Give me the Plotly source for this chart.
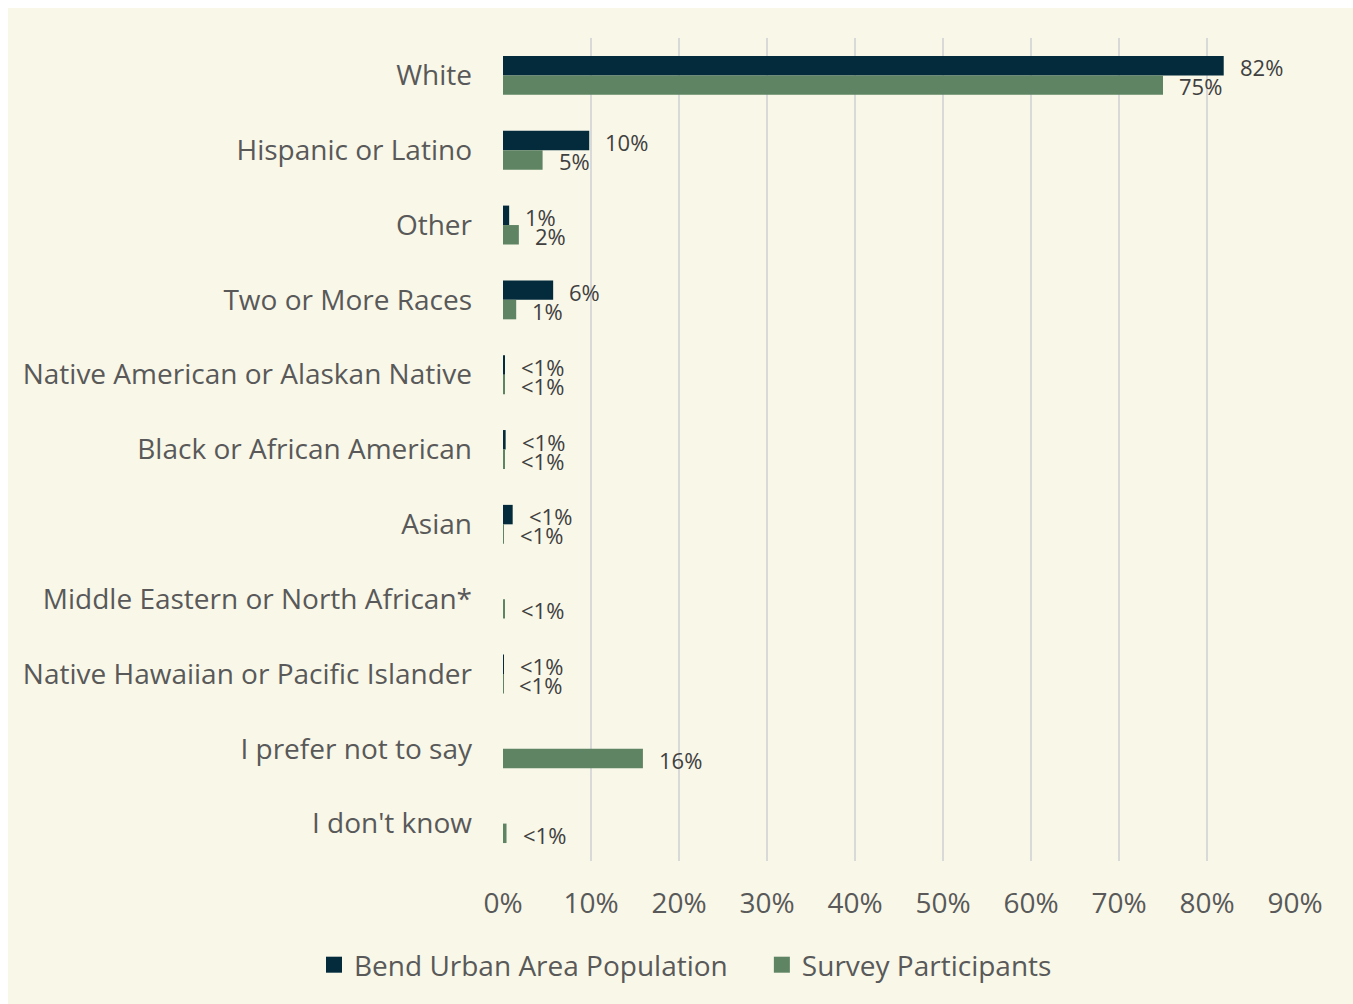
import plotly.graph_objects as go

categories = ["White", "Hispanic or Latino", "Other", "Two or More Races",
              "Native American or Alaskan Native", "Black or African American",
              "Asian", "Middle Eastern or North African*",
              "Native Hawaiian or Pacific Islander", "I prefer not to say",
              "I don't know"]
population = [81.9, 9.8, 0.7, 5.7, 0.2, 0.3, 1.1, 0.0, 0.1, 0.0, 0.0]
participants = [75.0, 4.5, 1.8, 1.5, 0.2, 0.2, 0.1, 0.2, 0.05, 15.9, 0.4]
population_labels = ["82%", "10%", "1%", "6%", "<1%", "<1%", "<1%", "", "<1%", "", ""]
participant_labels = ["75%", "5%", "2%", "1%", "<1%", "<1%", "<1%", "<1%", "<1%", "16%", "<1%"]
x_ticks = [0, 10, 20, 30, 40, 50, 60, 70, 80, 90]
x_tick_labels = [f"{t}%" for t in x_ticks]
series_names = ["Bend Urban Area Population", "Survey Participants"]

DARK = "#032B3C"
GREEN = "#5E8463"
CREAM = "#F8F7E8"
TEXT = "#595959"
LABEL = "#404040"
FONT = "Open Sans"

W, H = 1353, 1004
L, R, T, B = 503, 58, 38, 143
PW, PH = W - L - R, H - T - B
BORDER = 8
NBSP = "\u00a0"

fig = go.Figure()
fig.add_trace(go.Bar(y=categories, x=population, orientation="h", name=series_names[0],
                     marker=dict(color=DARK, line=dict(width=0)), showlegend=False))
fig.add_trace(go.Bar(y=categories, x=participants, orientation="h", name=series_names[1],
                     marker=dict(color=GREEN, line=dict(width=0)), showlegend=False))
# legend entries with larger square swatches
legend_names = [series_names[0] + NBSP * 4, series_names[1]]
for name, col in zip(legend_names, [DARK, GREEN]):
    fig.add_trace(go.Scatter(x=[None], y=[None], mode="markers", name=name,
                             marker=dict(symbol="square", size=18, color=col),
                             showlegend=True, hoverinfo="skip"))

annotations = []
for cat, v, lab in zip(categories, population, population_labels):
    if lab:
        annotations.append(dict(x=v, y=cat, text=lab, showarrow=False, xanchor="left",
                                yanchor="middle", xshift=14, yshift=8,
                                font=dict(family=FONT, size=22, color=LABEL)))
for cat, v, lab in zip(categories, participants, participant_labels):
    if lab:
        annotations.append(dict(x=v, y=cat, text=lab, showarrow=False, xanchor="left",
                                yanchor="middle", xshift=14, yshift=-11,
                                font=dict(family=FONT, size=22, color=LABEL)))

fig.update_layout(
    width=W, height=H,
    margin=dict(l=L, r=R, t=T, b=B, pad=0),
    paper_bgcolor="white",
    plot_bgcolor="rgba(0,0,0,0)",
    barmode="group",
    bargap=0.48,
    bargroupgap=0,
    font=dict(family=FONT, color=TEXT),
    showlegend=True,
    legend=dict(orientation="h", xref="container", yref="container",
                x=314 / W, y=1 - 965 / H, xanchor="left", yanchor="middle",
                font=dict(family=FONT, size=28, color=TEXT),
                tracegroupgap=0, bgcolor="rgba(0,0,0,0)"),
    annotations=annotations,
    shapes=[dict(type="rect", xref="paper", yref="paper", layer="below",
                 x0=(BORDER - L) / PW, x1=(W - L) / PW,
                 y0=(T + PH - H) / PH, y1=(T + PH - BORDER) / PH,
                 fillcolor=CREAM, line=dict(width=0))],
    xaxis=dict(range=[0, 90], tickvals=x_ticks, ticktext=x_tick_labels,
               showgrid=True, gridcolor="#D9D9D9", gridwidth=2,
               zeroline=False, showline=False, ticks="",
               ticklabelstandoff=23,
               tickfont=dict(family=FONT, size=28, color=TEXT), fixedrange=True),
    yaxis=dict(autorange="reversed", showgrid=False, zeroline=False, showline=False,
               ticks="", ticklabelstandoff=30,
               tickfont=dict(family=FONT, size=28, color=TEXT), fixedrange=True),
)

fig.write_html("out.html", config={"displayModeBar": False},
               post_script="document.body.style.margin='0';document.body.style.overflow='hidden';")
